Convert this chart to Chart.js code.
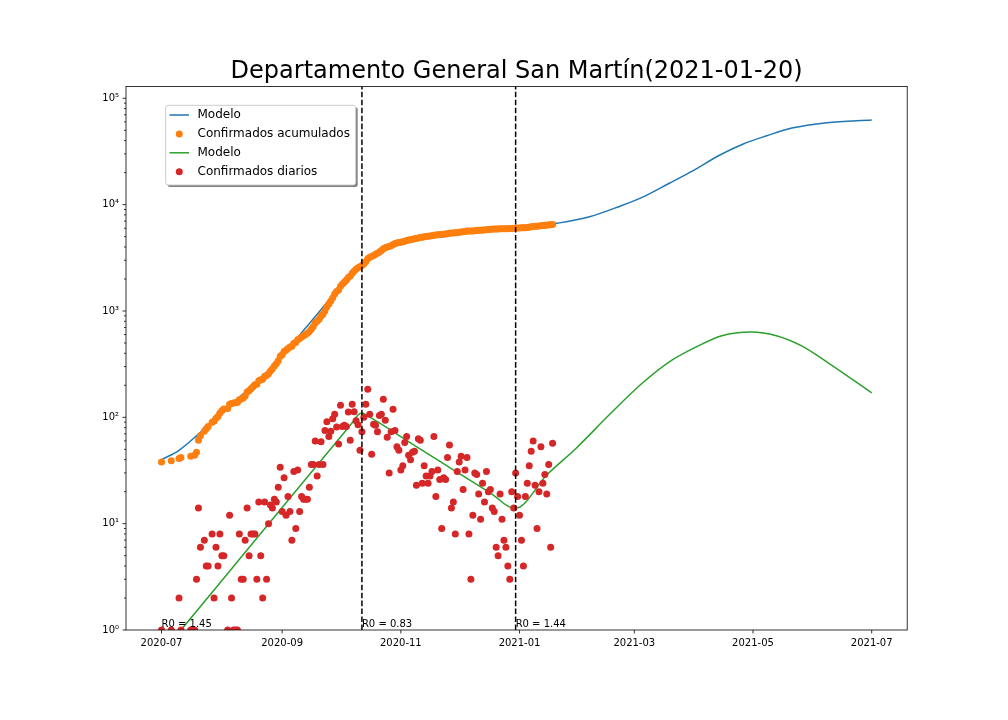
<!DOCTYPE html>
<html>
<head>
<meta charset="utf-8">
<style>
html,body{margin:0;padding:0;background:#fff}
canvas{display:block}
</style>
<script src="https://cdn.jsdelivr.net/npm/chart.js@4"></script>
</head>
<body>
<canvas id="c" width="1008" height="720"></canvas>
<script>
const chartTitle = 'Departamento General San Martín(2021-01-20)';
// x values are days since 2020-07-01
const xTickDays = [0,62,123,184,243,304,365];
const xTickLabels = ['2020-07','2020-09','2020-11','2021-01','2021-03','2021-05','2021-07'];
const yMajorTicks = [1,10,100,1000,10000,100000];
const yMajorLabels = ['10⁰','10¹','10²','10³','10⁴','10⁵'];
const yMinorTicks = [2,3,4,5,6,7,8,9,20,30,40,50,60,70,80,90,200,300,400,500,600,700,800,900,2000,3000,4000,5000,6000,7000,8000,9000,20000,30000,40000,50000,60000,70000,80000,90000];

const obsDays = [0,5,9,10,15,17,18,19,20,22,23,24,26,27,28,29,30,31,32,34,35,36,37,38,39,40,41,42,43,44,45,46,47,48,49,50,51,52,53,54,55,56,57,58,59,60,61,62,63,64,65,66,67,68,69,70,71,72,73,74,75,76,77,78,79,80,81,82,83,84,85,86,87,88,89,90,91,92,93,94,95,96,97,98,99,100,101,102,103,104,105,106,107,108,109,110,111,112,113,114,115,116,117,118,119,120,121,122,123,124,125,126,127,128,129,130,131,132,133,134,135,136,137,138,139,140,141,142,143,144,145,146,147,148,149,150,151,152,153,154,155,156,157,158,159,160,161,162,163,164,165,166,167,168,169,170,171,172,173,174,175,176,177,178,179,180,181,182,183,184,185,186,187,188,189,190,191,192,193,194,195,196,197,198,199,200,201];
const dailyCases = [1,1,2,1,1,1,3,14,6,7,4,4,8,2,6,4,8,5,5,1,12,2,1,1,1,8,3,3,7,14,5,8,8,8,3,16,5,2,16,3,10,15,14,17,16,22,34,13,27,12,18,13,7,31,9,32,13,18,17,17,17,22,36,36,60,28,36,59,36,75,91,66,74,97,107,81,56,130,82,84,82,112,61,133,113,93,85,49,73,100,133,184,107,45,86,84,73,104,107,148,94,65,30,73,119,75,53,49,32,35,58,66,44,40,47,48,23,63,61,24,35,28,24,28,31,66,18,32,26,9,27,26,42,55,14,16,8,31,38,43,21,32,42,8,3,12,30,29,19,11,24,16,31,20,21,14,13,6,5,19,11,7,6,4,3,20,14,30,18,12,7,4,18,24,35,48,60,23,9,20,53,24,29,19,36,6,57];
const cumulativeCases = [38,39,41,42,43,44,47,61,67,74,78,82,90,92,98,102,110,115,120,121,133,135,136,137,138,146,149,152,159,173,178,186,194,202,205,221,226,228,244,247,257,272,286,303,319,341,375,388,415,427,445,458,465,496,505,537,550,568,585,602,619,641,677,713,773,801,837,896,932,1007,1098,1164,1238,1335,1442,1523,1579,1709,1791,1875,1957,2069,2130,2263,2376,2469,2554,2603,2676,2776,2909,3093,3200,3245,3331,3415,3488,3592,3699,3847,3941,4006,4036,4109,4228,4303,4356,4405,4437,4472,4530,4596,4640,4680,4727,4775,4798,4861,4922,4946,4981,5009,5033,5061,5092,5158,5176,5208,5234,5243,5270,5296,5338,5393,5407,5423,5431,5462,5500,5543,5564,5596,5638,5646,5649,5661,5691,5720,5739,5750,5774,5790,5821,5841,5862,5876,5889,5895,5900,5919,5930,5937,5943,5947,5950,5970,5984,6014,6032,6044,6051,6055,6073,6097,6132,6180,6240,6263,6272,6292,6345,6369,6398,6417,6453,6459,6516];

const modelCumDays = [0,9,18,25,33,40,48,56,63,71,77,84,90,96,103,110,116,122,130,140,150,160,170,182,190,203,220,235,247,261,273,287,299,311,324,342,365];
const modelCumVals = [40,49,67,88,122,155,208,290,400,595,800,1140,1550,2000,2700,3400,4000,4450,4880,5200,5450,5680,5850,6010,6200,6670,7700,9570,11700,15900,20800,29300,37200,44400,52500,59000,62500];
const modelDailyDays = [0,30,60,90,98,101,103,106,130,150,170,181,182,198,213,230,247,261,275,288,303,316,329,343,365];
const modelDailyVals = [0.6,2.77,12.8,59,89,105,110,103,54.5,32,18.9,14,14,28.7,51,105,209,333,461,585,634,585,469,322,170];

const changeDays = [0,103,182];
const r0Labels = ['R0 = 1.45','R0 = 0.83','R0 = 1.44'];
const yTop = 129400;

const zip = (xs, ys) => xs.map((x, i) => ({x, y: ys[i]}));
const FONT = '"DejaVu Sans"';

const legendItems = [
  {label:'Modelo', color:'#1f77b4', kind:'line'},
  {label:'Confirmados acumulados', color:'#ff7f0e', kind:'dot'},
  {label:'Modelo', color:'#2ca02c', kind:'line'},
  {label:'Confirmados diarios', color:'#d62728', kind:'dot'}
];

const decor = {
  id:'decor',
  afterDraw(chart){
    const {ctx, chartArea:a, scales:{x, y}} = chart;
    ctx.save();
    // axes frame and tick marks
    ctx.strokeStyle = '#000'; ctx.lineWidth = 0.8;
    ctx.strokeRect(a.left, a.top, a.right-a.left, a.bottom-a.top);
    ctx.beginPath();
    x.ticks.forEach(t => { const p = x.getPixelForValue(t.value); ctx.moveTo(p, a.bottom); ctx.lineTo(p, a.bottom+3.5); });
    y.ticks.forEach(t => { const p = y.getPixelForValue(t.value); ctx.moveTo(a.left, p); ctx.lineTo(a.left-(t.major?3.5:2), p); });
    ctx.stroke();
    // R0 annotations
    ctx.fillStyle = '#000'; ctx.font = '10px '+FONT; ctx.textAlign = 'left'; ctx.textBaseline = 'alphabetic';
    changeDays.forEach((d,i) => ctx.fillText(r0Labels[i], x.getPixelForValue(d), 626.5));
    // legend
    const L=165.7, T=105.3, W=190, H=79.7, r=2.5;
    const box = (dx,dy) => { ctx.beginPath(); ctx.roundRect(L+dx,T+dy,W,H,r); };
    ctx.fillStyle='rgba(0,0,0,0.5)'; box(2,2); ctx.fill();
    ctx.fillStyle='#fff'; box(0,0); ctx.fill();
    ctx.strokeStyle='#ccc'; ctx.lineWidth=1; box(0,0); ctx.stroke();
    ctx.font='12px '+FONT; ctx.textBaseline='middle';
    legendItems.forEach((it,i) => {
      const yy = 115 + i*18.9;
      if(it.kind==='line'){
        ctx.strokeStyle=it.color; ctx.lineWidth=1.5; ctx.beginPath(); ctx.moveTo(169.5,yy); ctx.lineTo(189,yy); ctx.stroke();
      } else {
        ctx.fillStyle=it.color; ctx.beginPath(); ctx.arc(179.3,yy,3.5,0,Math.PI*2); ctx.fill();
      }
      ctx.fillStyle='#000'; ctx.fillText(it.label, 197.5, yy);
    });
    ctx.restore();
  }
};

const lineDs = (label,data,color,order,extra) => Object.assign({label,data,borderColor:color,backgroundColor:color,borderWidth:1.5,pointRadius:0,order,clip:0,fill:false,cubicInterpolationMode:'monotone'},extra||{});
const dotDs = (label,data,color,order) => ({label,data,showLine:false,borderColor:color,backgroundColor:color,pointBackgroundColor:color,pointBorderWidth:0,pointRadius:3.5,pointHoverRadius:3.5,order,clip:0});
const vline = (d) => ({label:'',data:[{x:d,y:1},{x:d,y:yTop}],borderColor:'#000',borderWidth:1.5,borderDash:[5.55,2.4],pointRadius:0,order:0,clip:0,tension:0});

new Chart(document.getElementById('c'),{
  type:'line',
  data:{datasets:[
    lineDs('Modelo',zip(modelCumDays,modelCumVals),'#1f77b4',4),
    dotDs('Confirmados acumulados',zip(obsDays,cumulativeCases),'#ff7f0e',3),
    lineDs('Modelo',zip(modelDailyDays,modelDailyVals),'#2ca02c',2),
    dotDs('Confirmados diarios',zip(obsDays,dailyCases),'#d62728',1),
    vline(changeDays[1]),
    vline(changeDays[2])
  ]},
  plugins:[decor],
  options:{
    responsive:false,animation:false,devicePixelRatio:1,
    layout:{padding:{left:0,right:100.8,top:0,bottom:0}},
    plugins:{
      legend:{display:false},tooltip:{enabled:false},
      title:{display:true,text:chartTitle,fullSize:false,color:'#000',
        font:{family:FONT,size:24,weight:'normal',lineHeight:1.2},
        padding:{top:57.6,bottom:0}}
    },
    scales:{
      x:{type:'linear',min:-18.25,max:383.25,
        grid:{display:false,drawTicks:false},border:{display:false},
        afterBuildTicks(s){s.ticks=xTickDays.map(v=>({value:v,major:true}));},
        afterFit(s){s.height=90;},
        ticks:{color:'#000',font:{family:FONT,size:10},padding:7,autoSkip:false,maxRotation:0,minRotation:0,
          callback:v=>xTickLabels[xTickDays.indexOf(v)]}
      },
      y:{type:'logarithmic',min:1,max:yTop,
        grid:{display:false,drawTicks:false},border:{display:false},
        afterBuildTicks(s){s.ticks=yMajorTicks.map(v=>({value:v,major:true})).concat(yMinorTicks.map(v=>({value:v,major:false}))).sort((a,b)=>a.value-b.value);},
        afterFit(s){s.width=126;},
        ticks:{color:'#000',font:{family:FONT,size:10},padding:7,autoSkip:false,
          callback:v=>{const i=yMajorTicks.indexOf(v);return i>=0?yMajorLabels[i]:'';}}
      }
    }
  }
});
</script>
</body>
</html>
